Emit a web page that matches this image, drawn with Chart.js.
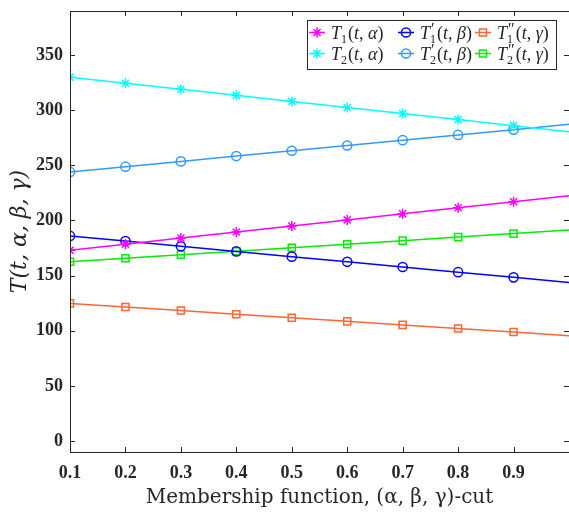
<!DOCTYPE html>
<html>
<head>
<meta charset="utf-8">
<script src="https://cdn.jsdelivr.net/npm/chart.js@4/dist/chart.umd.min.js"></script>
<style>
    html, body { margin: 0; padding: 0; background: #fff; overflow: hidden; }
    canvas { display: block; }
</style>
</head>
<body>
<canvas id="cutChart" width="569" height="515"></canvas>
<script>
// Data
const xValues = [0.1, 0.2, 0.3, 0.4, 0.5, 0.6, 0.7, 0.8, 0.9, 1.0];
const xTicks = [0.1, 0.2, 0.3, 0.4, 0.5, 0.6, 0.7, 0.8, 0.9];
const yTicks = [0, 50, 100, 150, 200, 250, 300, 350];

const t1Alpha = [173, 178.5, 184, 189.5, 195, 200.5, 206, 211.5, 217, 222.5];
const t1Beta = [186, 181.3, 176.6, 171.9, 167.2, 162.5, 157.8, 153.1, 148.4, 143.7];
const t1Gamma = [124.8, 121.5, 118.3, 115.0, 111.8, 108.5, 105.3, 102.0, 98.8, 95.5];
const t2Alpha = [330, 324.5, 319, 313.5, 308, 302.5, 297, 291.5, 286, 280.5];
const t2Beta = [244, 248.8, 253.6, 258.4, 263.2, 268, 272.8, 277.6, 282.4, 287.2];
const t2Gamma = [162.5, 165.7, 168.9, 172.1, 175.3, 178.5, 181.7, 184.9, 188.1, 191.3];

const seriesLabels = ['T₁(t, α)', 'T′₁(t, β)', 'T″₁(t, γ)', 'T₂(t, α)', 'T′₂(t, β)', 'T″₂(t, γ)'];
const seriesSub = ['1', '1', '1', '2', '2', '2'];
const seriesPrime = ['', '′', '″', '', '′', '″'];
const seriesVar = ['α', 'β', 'γ', 'α', 'β', 'γ'];
const seriesData = [t1Alpha, t1Beta, t1Gamma, t2Alpha, t2Beta, t2Gamma];
const seriesColors = ['#ff00ff', '#0000ff', '#ff6633', '#00ffff', '#3399ff', '#00ee00'];
const seriesMarkers = ['star', 'circle', 'rect', 'star', 'circle', 'rect'];
const markerSize = { star: 5, circle: 4.6, rect: 5 };

const SERIF = "'Liberation Serif', 'DejaVu Serif', serif";
const TITLE_SERIF = "'DejaVu Serif', 'Liberation Serif', serif";
const INK = '#262626';

const datasets = seriesData.map((vals, i) => ({
    label: seriesLabels[i],
    data: vals.map((v, k) => ({ x: xValues[k], y: v })),
    borderColor: seriesColors[i],
    backgroundColor: 'rgba(0,0,0,0)',
    borderWidth: 1.5,
    pointStyle: seriesMarkers[i],
    pointRadius: (c) => (c.dataIndex === vals.length - 1 ? 0 : markerSize[seriesMarkers[i]]),
    pointBorderColor: seriesColors[i],
    pointBackgroundColor: 'rgba(0,0,0,0)',
    pointBorderWidth: 1.5,
    tension: 0,
}));

// keep the axes box exactly where the layout padding puts it
function noEdgePadding(s) {
    s.paddingTop = 0;
    s.paddingBottom = 0;
    s.paddingLeft = 0;
    s.paddingRight = 0;
}

// Box around the axes with inward tick marks on every side
const framePlugin = {
    id: 'frame',
    afterDraw(chart) {
        const { ctx, chartArea: a, scales } = chart;
        const len = 5;
        ctx.save();
        ctx.strokeStyle = INK;
        ctx.lineWidth = 1;
        ctx.strokeRect(a.left + 0.5, a.top + 0.5, a.right - a.left, a.bottom - a.top);
        ctx.beginPath();
        scales.x.ticks.forEach((t) => {
            const px = Math.round(scales.x.getPixelForValue(t.value)) + 0.5;
            ctx.moveTo(px, a.bottom); ctx.lineTo(px, a.bottom - len);
            ctx.moveTo(px, a.top); ctx.lineTo(px, a.top + len);
        });
        scales.y.ticks.forEach((t) => {
            const py = Math.round(scales.y.getPixelForValue(t.value)) + 0.5;
            ctx.moveTo(a.left, py); ctx.lineTo(a.left + len, py);
            ctx.moveTo(a.right, py); ctx.lineTo(a.right - len, py);
        });
        ctx.stroke();
        ctx.restore();
    }
};

function drawLegendText(ctx, x, y, sub, prime, greek) {
    const base = y + 6;
    ctx.fillStyle = INK;
    ctx.textBaseline = 'alphabetic';
    ctx.textAlign = 'left';
    const piece = (txt, font, dy) => {
        ctx.font = font;
        ctx.fillText(txt, x, base + (dy || 0));
        return ctx.measureText(txt).width;
    };
    x += piece('T', 'italic 18px ' + SERIF);
    let w = 0;
    if (prime) {
        ctx.font = '16px ' + SERIF;
        ctx.fillText(prime, x + 1, base - 5);
        w = ctx.measureText(prime).width + 1;
    }
    ctx.font = '12px ' + SERIF;
    ctx.fillText(sub, x, base + 4);
    w = Math.max(w, ctx.measureText(sub).width);
    x += w + 1;
    x += piece('(', '18px ' + SERIF);
    x += piece('t', 'italic 18px ' + SERIF);
    x += piece(', ', '18px ' + SERIF);
    x += piece(greek, 'italic 18px ' + SERIF);
    piece(')', '18px ' + SERIF);
}

// MATLAB-like legend box, three columns by two rows
const legendPlugin = {
    id: 'matLegend',
    afterDraw(chart) {
        const { ctx } = chart;
        const box = { x: 307, y: 20, w: 249, h: 49 };
        const colX = [317, 406, 483];
        const rowY = [32.5, 53.5];
        ctx.save();
        ctx.fillStyle = '#fff';
        ctx.fillRect(box.x, box.y, box.w, box.h);
        ctx.strokeStyle = INK;
        ctx.lineWidth = 1;
        ctx.strokeRect(box.x + 0.5, box.y + 0.5, box.w, box.h);
        chart.data.datasets.forEach((ds, i) => {
            const mx = colX[i % 3];
            const my = rowY[Math.floor(i / 3)];
            ctx.strokeStyle = ds.borderColor;
            ctx.lineWidth = 1.5;
            ctx.beginPath();
            ctx.moveTo(mx - 8, my);
            ctx.lineTo(mx + 8, my);
            ctx.stroke();
            ctx.fillStyle = 'rgba(0,0,0,0)';
            Chart.helpers.drawPoint(ctx, {
                pointStyle: ds.pointStyle,
                radius: markerSize[ds.pointStyle],
                rotation: 0,
                borderWidth: 1.5
            }, mx, my);
            drawLegendText(ctx, mx + 14, my, seriesSub[i], seriesPrime[i], seriesVar[i]);
        });
        ctx.restore();
    }
};

const ctx = document.getElementById('cutChart').getContext('2d');
const cutChart = new Chart(ctx, {
    type: 'line',
    data: { datasets: datasets },
    options: {
        responsive: false,
        animation: false,
        // right edge of the axes (x = 1.0) sits just past the picture border
        layout: { autoPadding: false, padding: { left: 0, right: -3, top: 11, bottom: 0 } },
        plugins: {
            legend: { display: false },
            tooltip: { enabled: false },
        },
        scales: {
            x: {
                type: 'linear',
                min: 0.1,
                max: 1.0,
                afterFit: (s) => { s.height = 63; noEdgePadding(s); },
                afterBuildTicks: (s) => { s.ticks = xTicks.map((v) => ({ value: v })); },
                grid: { display: false, drawTicks: false },
                border: { display: false },
                ticks: {
                    color: INK,
                    padding: 11,
                    maxRotation: 0,
                    autoSkip: false,
                    font: { family: SERIF, size: 18, weight: 'bold' },
                    callback: (v) => Number(v).toFixed(1),
                },
                title: {
                    display: true,
                    text: 'Membership function, (α, β, γ)-cut',
                    color: INK,
                    font: { family: TITLE_SERIF, size: 20 },
                    padding: { top: 0, bottom: 5 },
                },
            },
            y: {
                min: -10,
                max: 390,
                afterFit: (s) => { s.width = 70; noEdgePadding(s); },
                afterBuildTicks: (s) => { s.ticks = yTicks.map((v) => ({ value: v })); },
                grid: { display: false, drawTicks: false },
                border: { display: false },
                ticks: {
                    color: INK,
                    padding: 7,
                    autoSkip: false,
                    font: { family: SERIF, size: 18, weight: 'bold' },
                },
                title: {
                    display: true,
                    text: 'T(t, α, β, γ)',
                    color: INK,
                    font: { family: TITLE_SERIF, size: 22, style: 'italic' },
                    padding: { top: 7, bottom: 0 },
                },
            },
        },
    },
    plugins: [framePlugin, legendPlugin],
});
</script>
</body>
</html>
